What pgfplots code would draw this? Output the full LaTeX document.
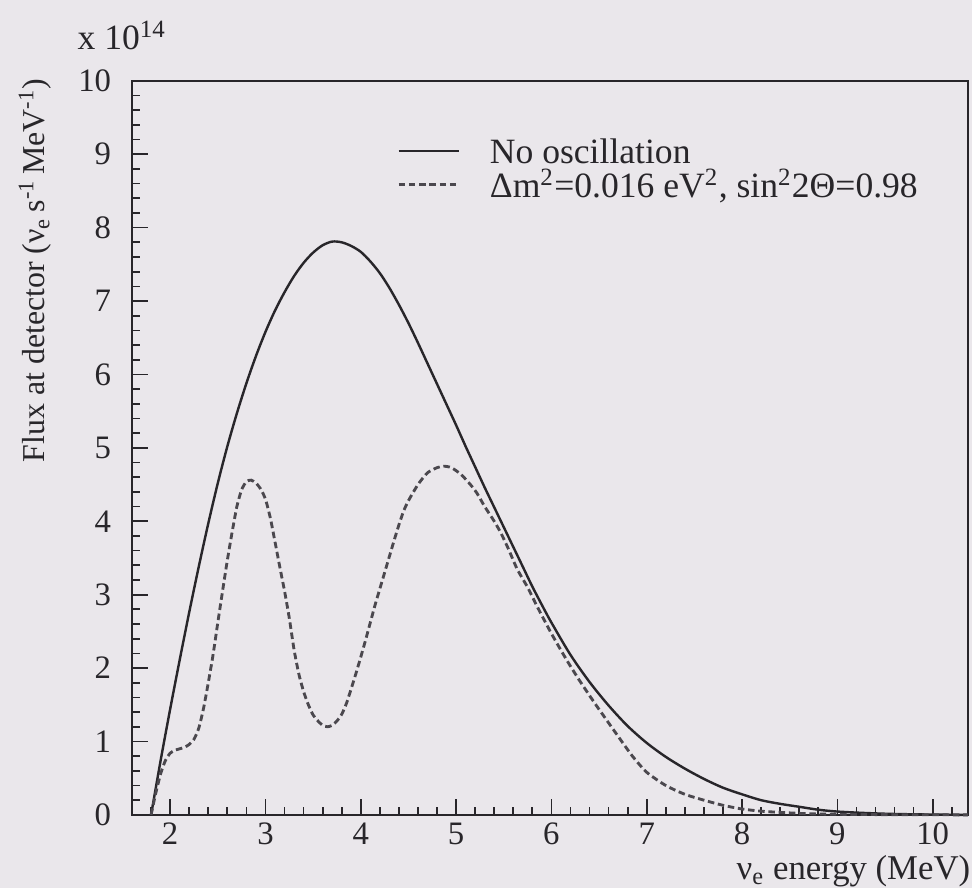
\documentclass[border=0pt]{standalone}
\usepackage{fontspec}
\setmainfont{Liberation Serif}
\usepackage{pgfplots}
\pgfplotsset{compat=1.18}
\definecolor{bg}{RGB}{234,231,235}
\definecolor{ink}{RGB}{40,38,42}
\definecolor{dashink}{RGB}{75,72,78}

\pgfplotstableread{
x y
1.80 0
1.90 0.74
2.00 1.44
2.10 2.11
2.20 2.76
2.30 3.38
2.40 3.97
2.50 4.52
2.60 5.02
2.70 5.47
2.80 5.88
2.90 6.25
3.00 6.58
3.10 6.87
3.20 7.12
3.30 7.34
3.40 7.52
3.50 7.66
3.60 7.76
3.70 7.81
3.80 7.80
3.90 7.75
4.00 7.67
4.10 7.54
4.20 7.38
4.30 7.18
4.40 6.95
4.50 6.70
4.60 6.43
4.70 6.15
4.80 5.87
4.90 5.59
5.00 5.31
5.10 5.02
5.20 4.74
5.30 4.46
5.40 4.19
5.50 3.92
5.60 3.65
5.70 3.38
5.80 3.11
5.90 2.86
6.00 2.62
6.20 2.18
6.40 1.81
6.60 1.49
6.80 1.21
7.00 0.98
7.20 0.79
7.40 0.63
7.60 0.49
7.80 0.37
8.00 0.28
8.20 0.20
8.40 0.15
8.60 0.11
8.80 0.07
9.00 0.045
9.30 0.025
9.60 0.012
10.00 0.004
10.37 0
}\nooscdata

\pgfplotstableread{
x y
1.80 0
1.85 0.30
1.90 0.56
1.95 0.74
2.00 0.84
2.05 0.88
2.10 0.90
2.15 0.92
2.20 0.96
2.25 1.03
2.30 1.18
2.35 1.45
2.40 1.80
2.45 2.18
2.50 2.62
2.55 3.05
2.60 3.47
2.65 3.85
2.70 4.20
2.75 4.43
2.80 4.54
2.85 4.56
2.90 4.52
2.95 4.44
3.00 4.30
3.05 4.05
3.10 3.72
3.15 3.38
3.20 3.05
3.25 2.68
3.30 2.25
3.35 1.92
3.40 1.68
3.45 1.50
3.50 1.36
3.55 1.28
3.60 1.22
3.65 1.20
3.70 1.22
3.75 1.28
3.80 1.37
3.85 1.52
3.90 1.72
3.95 1.93
4.00 2.15
4.05 2.38
4.10 2.62
4.15 2.86
4.20 3.08
4.25 3.30
4.30 3.52
4.35 3.74
4.40 3.95
4.45 4.14
4.50 4.28
4.60 4.50
4.70 4.66
4.80 4.73
4.87 4.75
4.95 4.73
5.05 4.64
5.15 4.50
5.22 4.38
5.30 4.20
5.40 4.00
5.47 3.84
5.55 3.62
5.64 3.35
5.75 3.10
5.85 2.84
6.00 2.47
6.16 2.11
6.30 1.82
6.45 1.53
6.58 1.29
6.70 1.07
6.85 0.80
7.00 0.58
7.20 0.40
7.40 0.28
7.60 0.20
7.80 0.13
8.00 0.08
8.20 0.05
8.45 0.03
8.70 0.015
9.00 0.008
9.50 0.003
10.00 0.001
10.37 0
}\oscdata

\begin{document}
\fontsize{12.5}{14}\selectfont
\begin{tikzpicture}
\fill[bg] (-1.63,-0.90) rectangle (10.37,10.06);
\begin{axis}[
  name=ax,
  at={(0,0)}, anchor=south west,
  scale only axis, width=10.32cm, height=9.062cm,
  xmin=1.6, xmax=10.37, ymin=0, ymax=10,
  clip=false,
  axis line style={ink, line width=0.75pt},
  tick style={ink, line width=0.6pt},
  tick align=inside, xtick pos=bottom, ytick pos=left,
  major tick length=0.2cm, minor tick length=0.1cm,
  xtick={2,...,10}, ytick={0,...,10},
  minor xtick={1.8,2.2,2.4,2.6,2.8,3.2,3.4,3.6,3.8,4.2,4.4,4.6,4.8,5.2,5.4,5.6,5.8,6.2,6.4,6.6,6.8,7.2,7.4,7.6,7.8,8.2,8.4,8.6,8.8,9.2,9.4,9.6,9.8,10.2},
  minor ytick={0.2,0.4,0.6,0.8,1.2,1.4,1.6,1.8,2.2,2.4,2.6,2.8,3.2,3.4,3.6,3.8,4.2,4.4,4.6,4.8,5.2,5.4,5.6,5.8,6.2,6.4,6.6,6.8,7.2,7.4,7.6,7.8,8.2,8.4,8.6,8.8,9.2,9.4,9.6,9.8},
  /pgf/number format/assume math mode=true,
  ticklabel style={font=\fontsize{11.5}{13}\selectfont, text=ink},
  yticklabel style={xshift=-3pt},
  xticklabel style={yshift=1.5pt},
  xlabel={ν\textsubscript{e} energy (MeV)},
  x label style={at={(rel axis cs:1,0)}, anchor=base east, inner sep=0pt, yshift=-22.8pt, xshift=1pt, text=ink, font=\fontsize{12.2}{14}\selectfont},
  ylabel={Flux at detector (ν\textsubscript{e}\,s\textsuperscript{-1}\,MeV\textsuperscript{-1})},
  y label style={at={(rel axis cs:-0.116,1.004)}, anchor=east, inner sep=0pt, text=ink, font=\fontsize{11.2}{13}\selectfont},
  legend style={draw=none, fill=none, at={(rel axis cs:0.3165,0.928)}, anchor=north west,
    row sep=0pt, inner sep=0pt,
    nodes={inner sep=0pt, text height=10.4pt, text depth=1.4pt, font=\fontsize{12.5}{14}\selectfont, text=ink},
    /tikz/every even column/.append style={column sep=0pt}},
  legend cell align=left,
  legend image code/.code={\draw[#1] (0cm,0cm) -- (0.75cm,0cm); \path (1.11cm,0cm);},
]
\addplot[ink, line width=0.85pt, smooth, tension=0.5] table[x=x, y=y] {\nooscdata};
\addlegendentry{No oscillation}
\addplot[dashink, line width=1pt, dash pattern=on 2.3pt off 1.3pt, smooth, tension=0.4] table[x=x, y=y] {\oscdata};
\addlegendentry{Δm\textsuperscript{2}=0.016 eV\textsuperscript{2}, sin\textsuperscript{2}2Θ=0.98}
\end{axis}
\node[anchor=base west, inner sep=0pt, text=ink] at ([xshift=-19.3pt, yshift=10.9pt]ax.north west) {x 10\textsuperscript{14}};
\pgfresetboundingbox
\useasboundingbox (-1.63,-0.90) rectangle (10.37,10.06);
\end{tikzpicture}
\end{document}
